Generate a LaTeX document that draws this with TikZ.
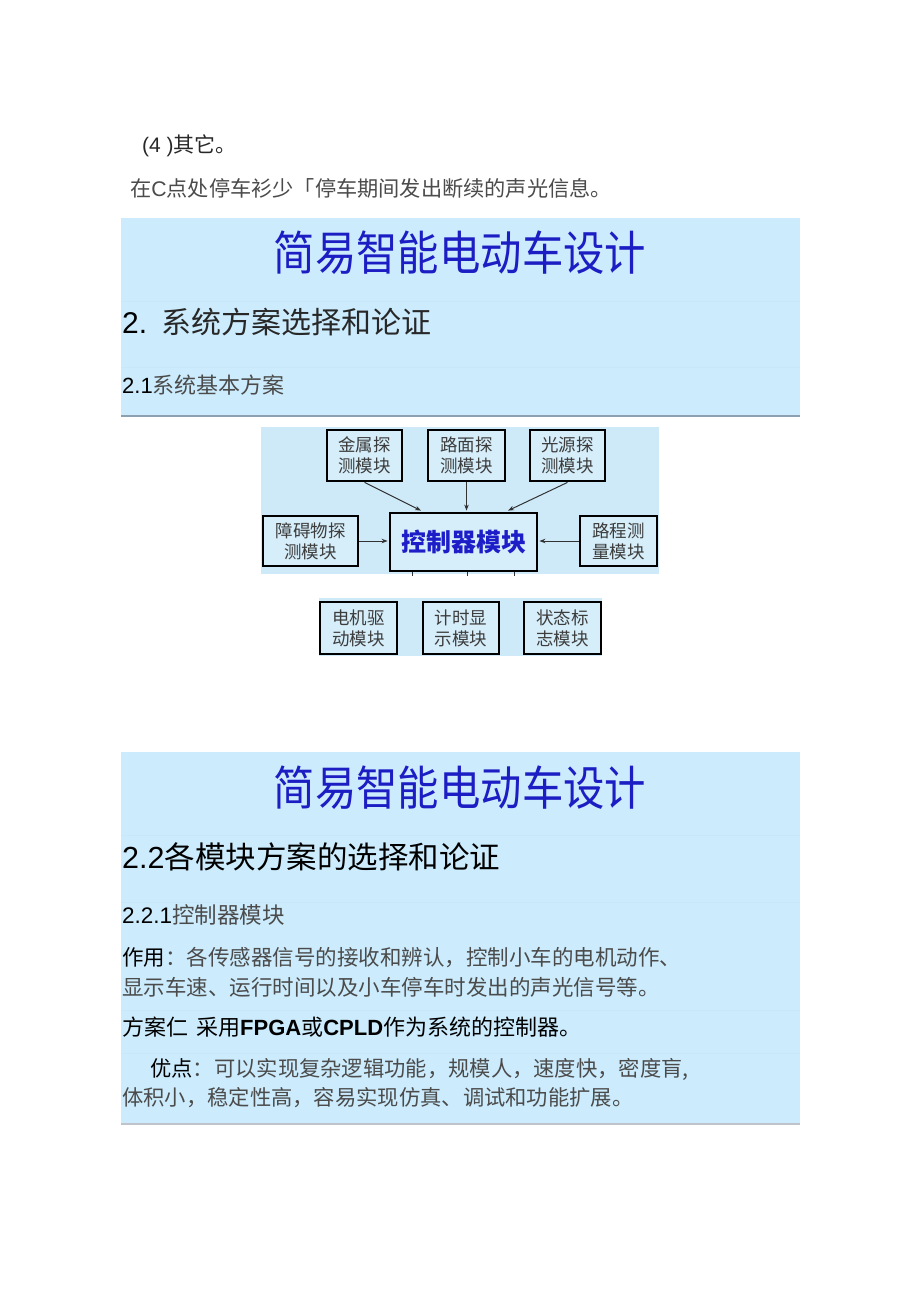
\documentclass[tikz,border=0pt]{standalone}
\usepackage{fontspec}
\setmainfont{Noto Sans CJK SC}
\newfontfamily\lat{Liberation Sans}
\newfontfamily\ttl[FakeStretch=0.88]{Noto Sans CJK SC}
\usetikzlibrary{arrows.meta}
\definecolor{panel}{RGB}{204,236,253}
\definecolor{sepline}{RGB}{199,232,250}
\definecolor{diagbg}{RGB}{206,234,249}
\definecolor{boxfill}{RGB}{214,238,250}
\definecolor{boxtext}{RGB}{60,60,60}
\definecolor{titleblue}{RGB}{28,30,196}
\definecolor{ctrlblue}{RGB}{30,30,200}
\definecolor{dark}{RGB}{40,40,40}
\definecolor{gray1}{RGB}{75,75,75}
\definecolor{arrgray}{RGB}{50,50,50}
\newcommand\fs[2]{\fontsize{#1}{#2}\selectfont}
\begin{document}
\begin{tikzpicture}[x=1pt,y=-1pt,
  box/.style={draw=black, line width=2.8pt, fill=boxfill, inner sep=0pt, align=center, text=boxtext, font=\fs{17.5}{21}},
  arr/.style={draw=arrgray, line width=1pt, -{Stealth[length=6pt,width=4.5pt]}},
  stub/.style={draw=arrgray, line width=1pt},
  txt/.style={anchor=west, inner sep=0pt},
  ttlnode/.style={inner sep=0pt, text=titleblue, font=\ttl\fs{47}{50}},
  sep/.style={draw=sepline, line width=0.6pt}]
\useasboundingbox (0,0) rectangle (920,1301);
\fill[white] (0,0) rectangle (920,1301);

% top text
\node[txt, text=dark, font=\fs{21}{24}] (t1) at (142,146) {{\lat(4 )}其它。};
\node[txt, text=gray1, font=\fs{21.2}{24}] (t2) at (130,188) {在{\lat C}点处停车衫少「停车期间发出断续的声光信息。};

% panel 1
\fill[panel] (121,218) rectangle (800,416);
\draw[sep] (121,301) -- (800,301);
\draw[sep] (121,367) -- (800,367);
\draw[draw={rgb,255:red,140;green,160;blue,175}, line width=1.5pt] (121,416) -- (800,416);
\node[ttlnode] (title1) at (460,253) {简易智能电动车设计};
\node[txt, font=\fs{30}{34}] (s1) at (122,322) {{\lat 2.}\hspace{14pt}\textcolor{dark}{系统方案选择和论证}};
\node[txt, font=\fs{22}{26}] (s11) at (122,385) {{\lat 2.1}\textcolor{gray1}{系统基本方案}};

% diagram
\fill[diagbg] (261,427) rectangle (659,574);
\fill[diagbg] (319,598) rectangle (602,656);
\node[box, minimum width=75pt, minimum height=51pt] (jin) at (364.5,455.5) {金属探\\测模块};
\node[box, minimum width=77pt, minimum height=51pt] (lu) at (466.5,455.5) {路面探\\测模块};
\node[box, minimum width=75pt, minimum height=51pt] (guang) at (567.5,455.5) {光源探\\测模块};
\node[box, minimum width=95pt, minimum height=50pt] (zhang) at (310.5,541) {障碍物探\\测模块};
\node[box, minimum width=147pt, minimum height=58pt, text=ctrlblue, font=\bfseries\fs{25}{28}] (ctrl) at (463.5,542) {控制器模块};
\node[box, minimum width=77pt, minimum height=50pt] (lucheng) at (618.5,541) {路程测\\量模块};
\node[box, minimum width=77pt, minimum height=52pt] (dianji) at (358.5,628) {电机驱\\动模块};
\node[box, minimum width=76pt, minimum height=52pt] (jishi) at (461,628) {计时显\\示模块};
\node[box, minimum width=77pt, minimum height=52pt] (zhuang) at (562.5,628) {状态标\\志模块};

\draw[arr] (jin.south) -- ([xshift=-42.5pt,yshift=1pt]ctrl.north);
\draw[arr] (lu.south) -- ([yshift=1pt]lu.south |- ctrl.north);
\draw[arr] (guang.south) -- ([xshift=44.5pt,yshift=1pt]ctrl.north);
\draw[arr] (zhang.east) -- ([xshift=-1pt]zhang.east -| ctrl.west);
\draw[arr] (lucheng.west) -- ([xshift=1pt]lucheng.west -| ctrl.east);
\coordinate (e1) at ([xshift=-51pt,yshift=-4pt]ctrl.south);
\coordinate (e2) at ([xshift=4pt,yshift=-4pt]ctrl.south);
\coordinate (e3) at ([xshift=51pt,yshift=-4pt]ctrl.south);
\draw[stub] ([xshift=-51pt]ctrl.south) -- (e1);
\draw[stub] ([xshift=4pt]ctrl.south) -- (e2);
\draw[stub] ([xshift=51pt]ctrl.south) -- (e3);

% panel 2
\fill[panel] (121,752) rectangle (800,1123);
\draw[sep] (121,835) -- (800,835);
\draw[sep] (121,902) -- (800,902);
\draw[sep] (121,1010) -- (800,1010);
\draw[sep] (121,1053) -- (800,1053);
\draw[draw={rgb,255:red,190;green,196;blue,202}, line width=2pt] (121,1124) -- (800,1124);
\node[ttlnode] (title2) at (460,788) {简易智能电动车设计};
\node[txt, font=\fs{30.5}{34}] (s2) at (122,857) {{\lat 2.2}各模块方案的选择和论证};
\node[txt, font=\fs{22.5}{26}] (s21) at (122,915) {{\lat 2.2.1}\textcolor{gray1}{控制器模块}};
\node[txt, font=\fs{21.5}{25}] (p1) at (122,958) {作用\textcolor{gray1}{：各传感器信号的接收和辨认，控制小车的电机动作、}};
\node[txt, text=gray1, font=\fs{21.5}{25}] (p2) at (122,987) {显示车速、运行时间以及小车停车时发出的声光信号等。};
\node[txt, font=\fs{22}{25}] (p3) at (122,1027) {方案仁\hspace{8pt}采用{\lat\bfseries FPGA}或{\lat\bfseries CPLD}作为系统的控制器。};
\node[txt, font=\fs{21.3}{25}] (p4) at (150,1069) {优点\textcolor{gray1}{：可以实现复杂逻辑功能，规模人，速度快，密度肓,}};
\node[txt, text=gray1, font=\fs{21.3}{25}] (p5) at (122,1098) {体积小，稳定性高，容易实现仿真、调试和功能扩展。};
\end{tikzpicture}
\end{document}
